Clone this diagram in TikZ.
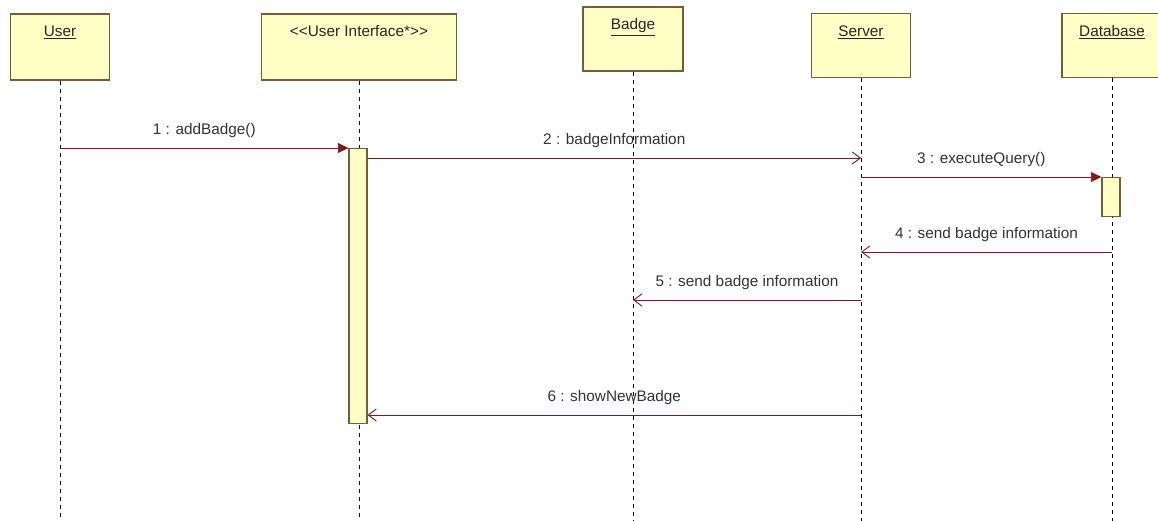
\documentclass[tikz,border=0pt]{standalone}
\usepackage{fontspec}
\setmainfont{Liberation Sans}
\usetikzlibrary{arrows.meta}
\definecolor{boxfill}{HTML}{FFFFC6}
\definecolor{boxline}{HTML}{7A5A3A}
\definecolor{msgred}{HTML}{7E1A1A}

\begin{document}
\begin{tikzpicture}[x=0.75pt,y=-0.75pt,
    font=\fontsize{11.5}{13}\selectfont,
    head/.style={draw=boxline,fill=boxfill,line width=0.9pt},
    headtxt/.style={anchor=north,inner sep=0pt,yshift=-9pt,text=black!85},
    life/.style={black,dash pattern=on 3pt off 3pt,line width=0.6pt},
    act/.style={draw=boxline,fill=boxfill,line width=0.8pt,anchor=north,minimum width=13.5pt,inner sep=0pt},
    call/.style={msgred,line width=0.7pt,-{Triangle[length=8pt,width=7.5pt]}},
    reply/.style={msgred,line width=0.7pt,-{Straight Barb[length=6pt,width=9pt]}},
    lbl/.style={midway,above,yshift=4pt,text=black!80}]
    \useasboundingbox[fill=white] (0,0) rectangle (1158,521);
    \clip (0,0) rectangle (1158,521);
    \coordinate (bot) at (0,521);

    % lifeline heads
    \node[head,minimum width=74pt,minimum height=49.5pt] (user) at (60,47) {};
    \node[head,minimum width=146pt,minimum height=49.5pt] (ui) at (359,47) {};
    \node[head,minimum width=75pt,minimum height=48pt] (badge) at (633,39) {};
    \node[head,minimum width=74pt,minimum height=47.5pt] (server) at (861,45.5) {};
    \node[head,minimum width=75pt,minimum height=47.5pt] (db) at (1112,45.5) {};
    \node[headtxt] at (user.north) {\underline{User}};
    \node[headtxt] at (ui.north) {{<}{<}User Interface*{>}{>}};
    \node[headtxt] at (badge.north) {\underline{Badge}};
    \node[headtxt] at (server.north) {\underline{Server}};
    \node[headtxt] at (db.north) {\underline{Database}};

    \foreach \n in {user,ui,badge,server,db}{
        \draw[life] (\n) -- (\n |- bot);
    }

    % activations
    \node[act,minimum height=206pt] (uiact) at (358,148) {};
    \node[act,minimum height=29pt] (dbact) at (1111,177) {};

    % messages
    \coordinate (m2) at (0,158);
    \coordinate (m4) at (0,252);
    \coordinate (m5) at (0,300);
    \coordinate (m6) at (0,415);
    \draw[call] (user |- uiact.north) -- node[lbl] {1 : addBadge()} (uiact.north west);
    \draw[reply] (uiact.east |- m2) -- node[lbl] {2 : badgeInformation} (server |- m2);
    \draw[call] (server |- dbact.north) -- node[lbl] {3 : executeQuery()} (dbact.north west);
    \draw[reply] (db |- m4) -- node[lbl] {4 : send badge information} (server |- m4);
    \draw[reply] (server |- m5) -- node[lbl] {5 : send badge information} (badge |- m5);
    \draw[reply] (server |- m6) -- node[lbl] {6 : showNewBadge} (uiact.east |- m6);
\end{tikzpicture}
\end{document}
